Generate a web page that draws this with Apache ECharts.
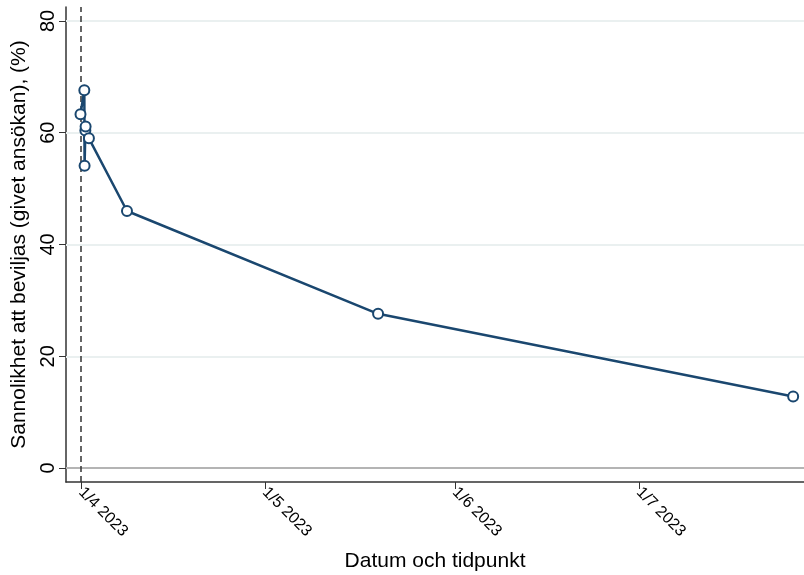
<!DOCTYPE html>
<html>
<head>
<meta charset="utf-8">
<script src="https://cdn.jsdelivr.net/npm/echarts@6/dist/echarts.min.js"></script>
<style>html,body{margin:0;padding:0;background:#fff}#c{width:804px;height:575px}</style>
</head>
<body>
<div id="c"></div>
<script>
// Data
const times = ['2023-03-31 22:00','2023-04-01 13:00','2023-04-01 14:00','2023-04-01 17:00','2023-04-01 18:00','2023-04-02 07:00','2023-04-08 12:00','2023-05-19 11:00','2023-07-26 04:00'];
const values = [63.3, 67.6, 54.1, 60.4, 61.1, 59.0, 46.0, 27.6, 12.8];
const xTickDates = ['2023-04-01','2023-05-01','2023-06-01','2023-07-01'];
const yTicks = [0, 20, 40, 60, 80];
const refDate = '2023-04-01';
const xMin = '2023-03-29 13:15';
const xMax = '2023-07-27 22:30';

const toTs = s => { const p = s.split(/[- :]/).map(Number); return Date.UTC(p[0], p[1] - 1, p[2], p[3] || 0, p[4] || 0); };
const chart = echarts.init(document.getElementById('c'), null, {renderer: 'canvas'});
const font = 'Liberation Sans, Arial, Helvetica, sans-serif';
const navy = '#1a476f';

const gridLines = yTicks.map(v => ({
  yAxis: v,
  lineStyle: v === 0 ? {color: '#b4b4b4', width: 2, type: 'solid'} : {color: '#eaf0f0', width: 2, type: 'solid'}
}));

chart.setOption({
  animation: false,
  backgroundColor: '#fff',
  grid: {left: 66, right: 0, top: 7, bottom: 93, containLabel: false, outerBoundsMode: 'none'},
  xAxis: {
    type: 'value',
    min: toTs(xMin), max: toTs(xMax),
    name: 'Datum och tidpunkt',
    nameLocation: 'middle', nameGap: 69,
    nameTextStyle: {fontFamily: font, fontSize: 21, color: '#000'},
    axisLine: {show: true, onZero: false, lineStyle: {color: '#333', width: 1.5}},
    axisTick: {show: true, length: 7, lineStyle: {color: '#333', width: 1}, customValues: xTickDates.map(toTs)},
    axisLabel: {
      show: true, rotate: -45, margin: 8,
      fontFamily: font, fontSize: 16, color: '#000',
      customValues: xTickDates.map(toTs),
      formatter: v => { const d = new Date(v); return d.getUTCDate() + '/' + (d.getUTCMonth() + 1) + ' ' + d.getUTCFullYear(); }
    },
    splitLine: {show: false}
  },
  yAxis: {
    type: 'value', min: -2.5, max: 82.5,
    name: 'Sannolikhet att beviljas (givet ansökan), (%)',
    nameLocation: 'middle', nameGap: 36, nameRotate: 90,
    nameTextStyle: {fontFamily: font, fontSize: 21, color: '#000'},
    axisLine: {show: true, onZero: false, lineStyle: {color: '#333', width: 1.5}},
    axisTick: {show: true, length: 7, lineStyle: {color: '#333', width: 1}, customValues: yTicks},
    axisLabel: {show: true, rotate: 90, margin: 8, fontFamily: font, fontSize: 20, color: '#000', customValues: yTicks},
    splitLine: {show: false}
  },
  series: [
    {
      type: 'line', data: [], z: 1, silent: true,
      markLine: {silent: true, symbol: 'none', label: {show: false}, animation: false, data: gridLines}
    },
    {
      type: 'line', data: [], z: 2, silent: true,
      markLine: {silent: true, symbol: 'none', label: {show: false}, animation: false,
        data: [{xAxis: toTs(refDate), lineStyle: {color: '#333', width: 1.5, type: [6, 4]}}]}
    },
    {
      type: 'line', z: 5,
      data: times.map((t, i) => [toTs(t), values[i]]),
      lineStyle: {color: navy, width: 2.5},
      symbol: 'emptyCircle', symbolSize: 10,
      itemStyle: {color: navy, borderColor: navy, borderWidth: 1.5},
      showSymbol: true
    }
  ]
});
</script>
</body>
</html>
